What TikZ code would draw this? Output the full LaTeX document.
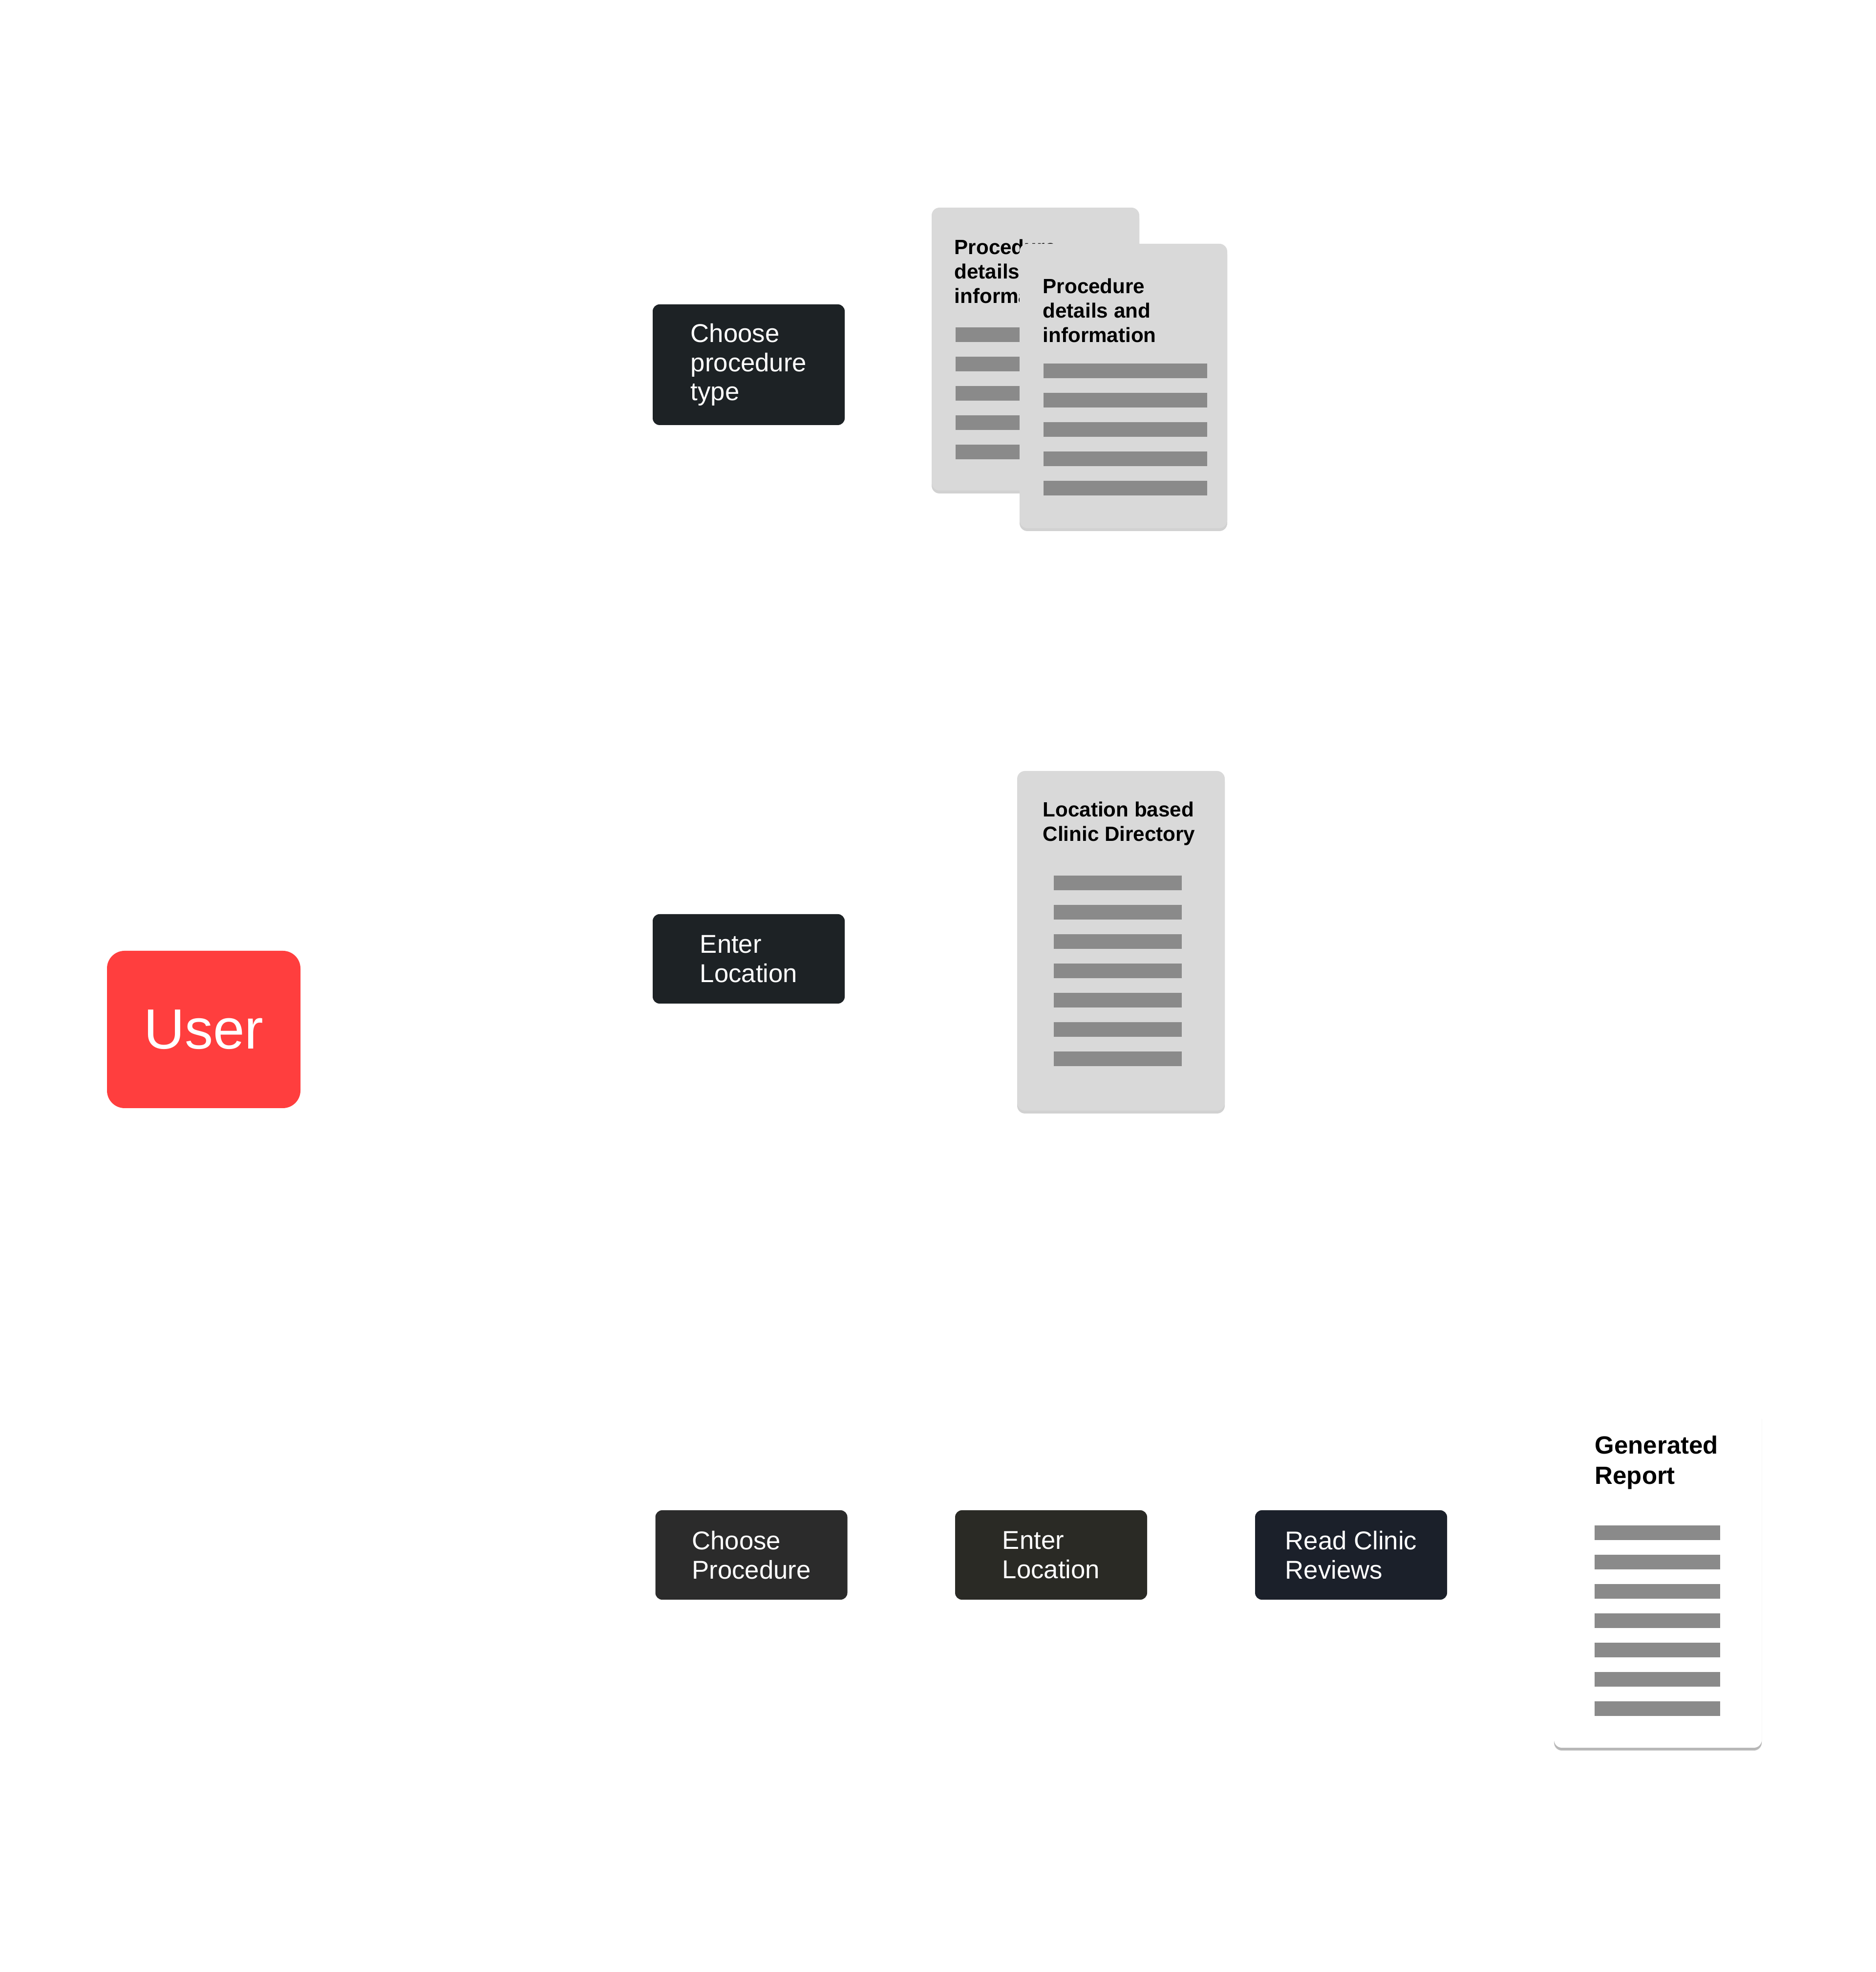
\documentclass[tikz,border=0pt]{standalone}
\usepackage{fontspec}
\setmainfont{Liberation Sans}
\usetikzlibrary{shadows}

\definecolor{userred}{HTML}{FF3E3E}
\definecolor{slatebtn}{HTML}{1D2225}
\definecolor{graphitebtn}{HTML}{2B2B2B}
\definecolor{olivebtn}{HTML}{2A2A25}
\definecolor{navybtn}{HTML}{1B202A}
\definecolor{sheetgray}{HTML}{D9D9D9}
\definecolor{bargray}{HTML}{8A8A8A}

\tikzset{
  action/.style={rectangle, rounded corners=0.14cm, inner sep=0pt,
    minimum width=3.93cm, minimum height=1.83cm, align=left,
    text=white, font=\fontsize{15}{17}\selectfont},
  sheet/.style={rectangle, rounded corners=0.16cm, inner sep=0pt,
    fill=sheetgray, minimum width=4.25cm,
    drop shadow={shadow xshift=0pt, shadow yshift=-0.06cm,
      fill=black, opacity=0.18}},
  heading/.style={anchor=north west, align=left, inner sep=0pt,
    font=\bfseries\fontsize{12}{14.2}\selectfont},
  bar/.style={fill=bargray},
}

\begin{document}
\begin{tikzpicture}

      \useasboundingbox (0, 0) rectangle (38.4, 40.36);
      \fill [white] (0, 0) rectangle (38.4, 40.36);

      % actor
      \node (user) [rectangle, rounded corners=0.36cm, fill=userred,
        minimum width=3.96cm, minimum height=3.22cm, text=white,
        font=\fontsize{33}{38}\selectfont] at (4.17, 19.29) {User};

      % first row
      \node (pickType) [action, fill=slatebtn, minimum height=2.47cm]
        at (15.325, 32.895) {Choose\\ procedure\\ type};

      \node (procBack) [sheet, minimum height=5.79cm] at (21.195, 33.215) {};
      \node (procBackTitle) [heading] at (19.53, 35.47)
        {Procedure\\ details and\\ information};
      \foreach \i in {0,...,4}
        \fill [bar] (19.56, 33.36-0.6*\i) rectangle ++(3.35, 0.3);

      \node (procFront) [sheet, minimum height=5.82cm] at (22.995, 32.46) {};
      \node (procFrontTitle) [heading] at (21.34, 34.67)
        {Procedure\\ details and\\ information};
      \foreach \i in {0,...,4}
        \fill [bar] (21.36, 32.62-0.6*\i) rectangle ++(3.35, 0.3);

      % second row
      \node (enterLoc) [action, fill=slatebtn] at (15.325, 20.735)
        {Enter\\ Location};

      \node (clinicDir) [sheet, minimum height=6.95cm] at (22.945, 21.105) {};
      \node (clinicDirTitle) [heading] at (21.34, 23.96)
        {Location based\\ Clinic Directory};
      \foreach \i in {0,...,6}
        \fill [bar] (21.57, 22.14-0.6*\i) rectangle ++(2.62, 0.3);

      % third row
      \node (pickProc) [action, fill=graphitebtn] at (15.38, 8.535)
        {Choose\\ Procedure};
      \node (enterLocB) [action, fill=olivebtn] at (21.515, 8.535)
        {Enter\\ Location};
      \node (readReviews) [action, fill=navybtn] at (27.655, 8.535)
        {Read Clinic\\ Reviews};

      \node (report) [sheet, fill=white, minimum height=6.94cm,
        drop shadow={shadow xshift=0pt, shadow yshift=-0.05cm,
          fill=black, opacity=0.12}] at (33.935, 8.06) {};
      \node (reportTitle) [heading, font=\bfseries\fontsize{14.5}{17.5}\selectfont]
        at (32.64, 10.98) {Generated\\ Report};
      \foreach \i in {0,...,6}
        \fill [bar] (32.64, 8.84-0.6*\i) rectangle ++(2.57, 0.3);

    \end{tikzpicture}
\end{document}
